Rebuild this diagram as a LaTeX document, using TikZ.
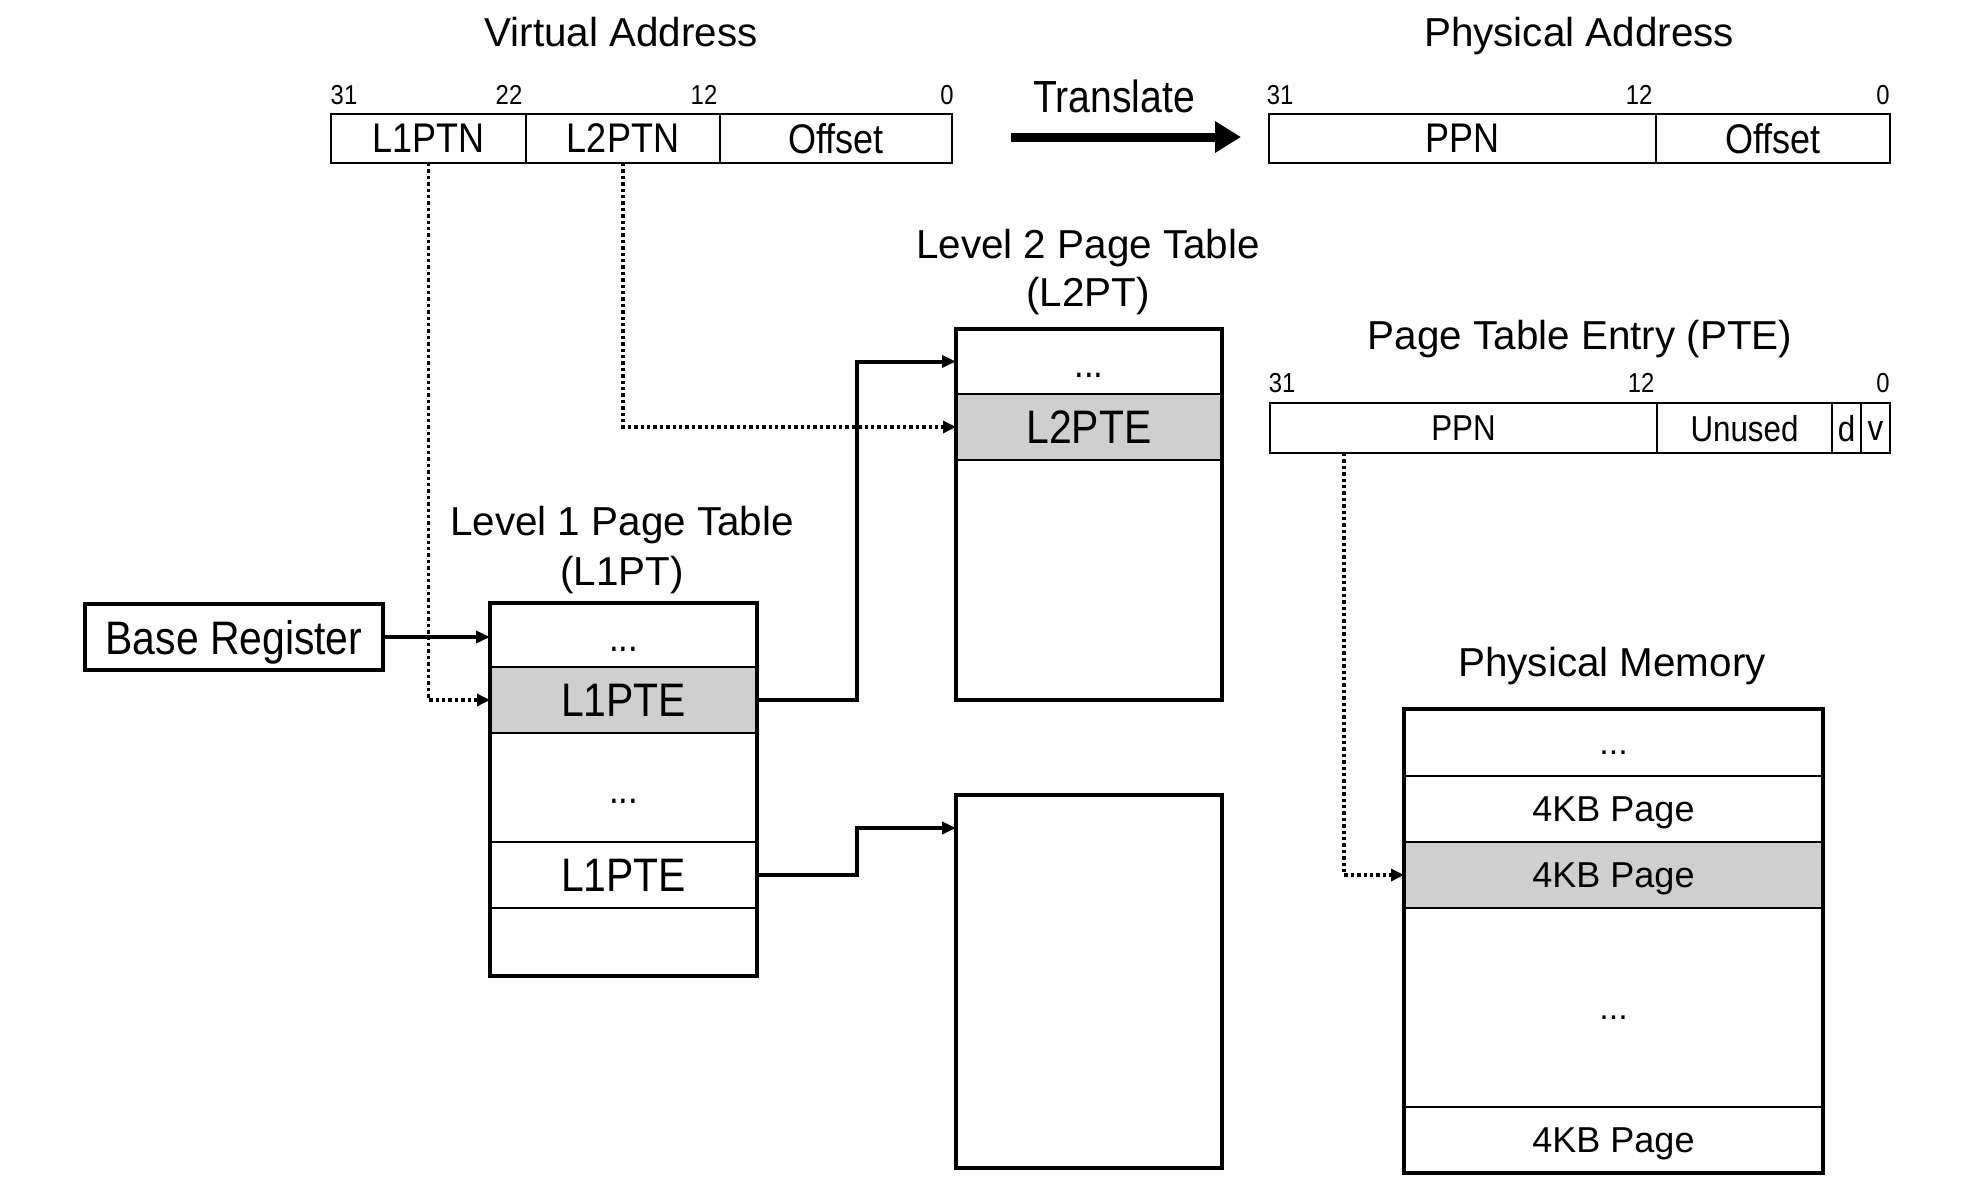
\documentclass[tikz,border=0pt]{standalone}
\usepackage{fontspec}
\setmainfont{Liberation Sans}
\newfontfamily\nf[FakeStretch=0.87]{Liberation Sans}
\usetikzlibrary{arrows.meta}
\definecolor{cellgray}{RGB}{208,207,208}
\newcommand\fsz[1]{\fontsize{#1}{#1}\selectfont}
\begin{document}
\begin{tikzpicture}[x=0.5pt,y=-0.5pt,
  cell/.style={draw, line width=1pt, inner sep=0pt, outer sep=0pt, anchor=north west,
    text depth=0pt, execute at begin node=\vphantom{L}},
  tcell/.style={cell, minimum width=133.5pt, font=\nf\fsz{23.5pt}},
  ucell/.style={cell, minimum width=133pt, font=\nf\fsz{23.5pt}},
  mcell/.style={cell, minimum width=209.5pt, font=\fsz{18pt}},
  frame/.style={draw, line width=2pt, inner sep=0pt, outer sep=0pt, anchor=north west},
  vfield/.style={cell, line width=1.3pt, minimum height=24.5pt, font=\nf\fsz{20.7pt}},
  pfield/.style={cell, line width=1.3pt, minimum height=25pt, font=\nf\fsz{18pt}},
  bits/.style={inner sep=0pt, font=\nf\fsz{13.7pt}},
  title/.style={inner sep=0pt, anchor=base, font=\fsz{20.2pt}},
  conn/.style={line width=2pt, -{Triangle[length=7pt,width=6pt]}},
  dconn/.style={line width=1.7pt, dash pattern=on 1.7pt off 1.5pt, -{Triangle[length=6.5pt,width=6pt]}},
  dotsz/.style={font=\fsz{20pt}}
]
\useasboundingbox (0,0) rectangle (1982,1200);

% titles
\node[title] (tva) at (621,46) {Virtual Address};
\node[title] (tpa) at (1579,46) {Physical Address};
\node[title] (tl2a) at (1088,258) {Level 2 Page Table};
\node[title] (tl2b) at (1088,306) {(L2PT)};
\node[title] (tpte) at (1580,349) {Page Table Entry (PTE)};
\node[title] (tl1a) at (622,535) {Level 1 Page Table};
\node[title] (tl1b) at (622,585) {(L1PT)};
\node[title] (tpm) at (1612,676) {Physical Memory};

% virtual address
\node[vfield, minimum width=97.5pt] (l1ptn) at (331,114) {L1PTN};
\node[vfield, minimum width=97pt] (l2ptn) at (526,114) {L2PTN};
\node[vfield, minimum width=116pt] (voff) at (720,114) {Offset};
\node[bits] (va31) at (344,95) {31};
\node[bits] (va22) at (509,95) {22};
\node[bits] (va12) at (704,95) {12};
\node[bits] (va0) at (947,95) {0};

% translate
\node[inner sep=0pt, anchor=base, font=\nf\fsz{22.5pt}] (ttr) at (1114,112) {Translate};
\coordinate (tra) at (1011,137);
\coordinate (trb) at (1241,137);
\draw[line width=4.5pt, -{Triangle[length=13pt,width=15pt]}] (tra) -- (trb);

% physical address
\node[vfield, minimum width=193.5pt] (pppn) at (1269,114) {PPN};
\node[vfield, minimum width=117pt] (poff) at (1656,114) {Offset};
\node[bits] (pa31) at (1280,95) {31};
\node[bits] (pa12) at (1639,95) {12};
\node[bits] (pa0) at (1883,95) {0};

% PTE
\node[pfield, minimum width=193.5pt] (tppn) at (1270,403) {PPN};
\node[pfield, minimum width=87.5pt] (tunused) at (1657,403) {Unused};
\node[pfield, minimum width=14.5pt] (td) at (1832,403) {d};
\node[pfield, minimum width=14.5pt] (tv) at (1861,403) {v};
\node[bits] (pt31) at (1282,383) {31};
\node[bits] (pt12) at (1641,383) {12};
\node[bits] (pt0) at (1883,383) {0};

% base register
\node[frame, font=\nf\fsz{23.5pt}, minimum width=149pt, minimum height=33pt,
  text depth=0pt, execute at begin node=\vphantom{L}] (base) at (85,604) {Base Register};

% L1PT
\node[tcell, minimum height=32pt] (l1r1) at (490,603) {{\fsz{20pt}...}};
\node[tcell, fill=cellgray, minimum height=33pt] (l1r2) at (490,667) {L1PTE};
\node[tcell, minimum height=54.5pt] (l1r3) at (490,733) {{\fsz{20pt}...}};
\node[tcell, minimum height=33pt] (l1r4) at (490,842) {L1PTE};
\node[tcell, minimum height=34pt] (l1r5) at (490,908) {};
\node[frame, minimum width=133.5pt, minimum height=186.5pt] (l1pt) at (490,603) {};

% L2PT
\node[ucell, minimum height=32.5pt] (l2r1) at (956,329) {{\fsz{20pt}...}};
\node[ucell, fill=cellgray, minimum height=33pt] (l2r2) at (956,394) {L2PTE};
\node[ucell, minimum height=120pt] (l2r3) at (956,460) {};
\node[frame, minimum width=133pt, minimum height=185.5pt] (l2pt) at (956,329) {};

% second level-2 table
\node[frame, minimum width=133pt, minimum height=186.5pt] (l2b) at (956,795) {};

% physical memory
\node[mcell, minimum height=33.5pt] (m1) at (1404,709) {{\fsz{17pt}...}};
\node[mcell, minimum height=33pt] (m2) at (1404,776) {4KB Page};
\node[mcell, fill=cellgray, minimum height=33pt] (m3) at (1404,842) {4KB Page};
\node[mcell, minimum height=99.5pt] (m4) at (1404,908) {{\fsz{17pt}...}};
\node[mcell, minimum height=33pt] (m5) at (1404,1107) {4KB Page};
\node[frame, minimum width=209.5pt, minimum height=232pt] (mem) at (1404,709) {};

% connectors
\coordinate (jx) at (857,0);
\draw[conn] (base.east) -- (base.east -| l1pt.west);
\draw[dconn] (l1ptn.south) |- (l1r2.west);
\draw[dconn] (l2ptn.south) |- (l2r2.west);
\draw[conn] (l1r2.east) -- (l1r2.east -| jx) |- (l2r1.west);
\coordinate (b2in) at ([yshift=-16.5pt]l2b.north west);
\draw[conn] (l1r4.east) -- (l1r4.east -| jx) |- (b2in);
\coordinate (pdrop) at ([xshift=37pt]tppn.south west);
\draw[dconn] (pdrop) |- (m3.west);
\end{tikzpicture}
\end{document}
